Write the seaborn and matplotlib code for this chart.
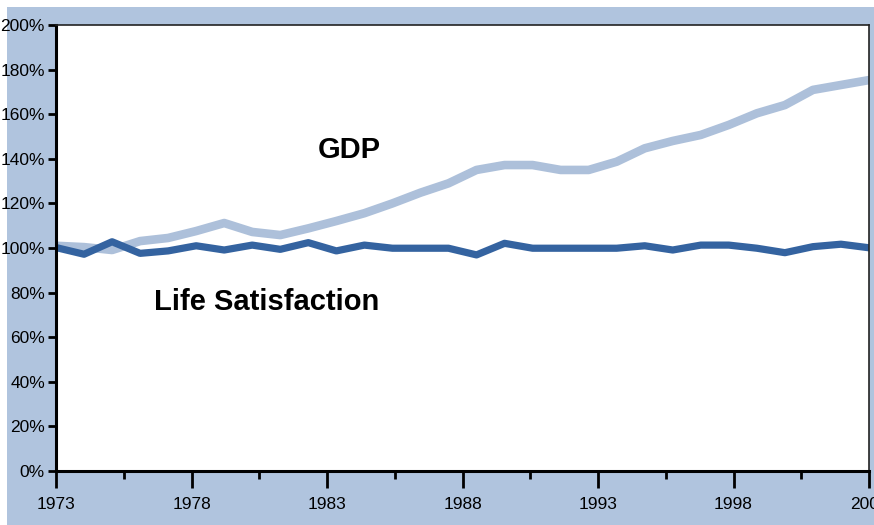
import numpy as np
import pandas as pd
import seaborn as sns
import matplotlib.pyplot as plt
from matplotlib.patches import Rectangle
from matplotlib.ticker import FixedLocator, FuncFormatter

# data (index = 100% in 1973)
years = list(range(1973, 2003))
gdp = [101.0, 100.4, 99.1, 103.1, 104.5, 107.6, 111.2, 107.2, 105.8, 108.8,
       112.1, 115.6, 120.0, 124.8, 129.0, 135.0, 137.2, 137.2, 135.0, 135.0,
       138.7, 144.7, 148.0, 150.7, 155.2, 160.4, 164.1, 170.9, 173.1, 175.3]
life_satisfaction = [100.2, 97.2, 102.8, 97.6, 98.7, 101.0, 99.1, 101.3, 99.4, 102.4,
                     98.7, 101.3, 99.9, 99.9, 99.9, 96.9, 102.1, 99.9, 99.9, 99.9,
                     99.9, 101.0, 99.1, 101.3, 101.3, 99.9, 97.9, 100.6, 101.7, 100.1]
tick_labels = ["1973", "1978", "1983", "1988", "1993", "1998", "2002"]

df = pd.DataFrame({"year": years, "GDP": gdp, "Life Satisfaction": life_satisfaction})

sns.set_theme(style="ticks")
plt.rcParams["font.family"] = ["Liberation Sans Narrow", "Liberation Sans", "DejaVu Sans"]
plt.rcParams["text.color"] = "black"

fig = plt.figure(figsize=(8.74, 5.25), dpi=100)
fig.patch.set_facecolor("white")
# light steel blue frame behind the plot
fig.patches.append(Rectangle((7 / 874, 0), 1, 1 - 7 / 525, transform=fig.transFigure,
                             facecolor="#b0c4de", edgecolor="none", zorder=-10))

ax = fig.add_axes([56 / 874, 54 / 525, 813 / 874, 446 / 525])
ax.set_facecolor("white")

sns.lineplot(data=df, x="year", y="GDP", ax=ax, color="#adc0da", linewidth=6.2)
sns.lineplot(data=df, x="year", y="Life Satisfaction", ax=ax, color="#3463a0", linewidth=5.2)

ax.set_xlim(years[0], years[-1])
ax.set_ylim(0, 200)
ax.set_yticks(np.arange(0, 201, 20))
ax.yaxis.set_major_formatter(FuncFormatter(lambda v, p: f"{v:.0f}%"))

# 12 equal tick intervals across the axis, label every other one
ticks = np.linspace(years[0], years[-1], 13)
ax.xaxis.set_major_locator(FixedLocator(ticks[::2]))
ax.xaxis.set_minor_locator(FixedLocator(ticks[1::2]))
ax.set_xticklabels(tick_labels)

ax.set_xlabel("")
ax.set_ylabel("")
ax.tick_params(axis="y", direction="out", length=6, width=2, pad=2, labelsize=12.5, colors="black")
ax.tick_params(axis="x", which="major", direction="out", length=12, width=2, pad=7, labelsize=12.5, colors="black")
ax.tick_params(axis="x", which="minor", direction="out", length=6, width=2, colors="black")

for side in ["left", "bottom"]:
    ax.spines[side].set_linewidth(2.2)
    ax.spines[side].set_color("black")
for side in ["top", "right"]:
    ax.spines[side].set_visible(True)
    ax.spines[side].set_linewidth(1.2)
    ax.spines[side].set_color("#222222")

ax.text(1982.35, 144, "GDP", fontsize=21, fontweight="bold", color="black",
        family=["Liberation Sans", "DejaVu Sans"], ha="left", va="center")
ax.text(1976.5, 75.8, "Life Satisfaction", fontsize=21, fontweight="bold", color="black",
        family=["Liberation Sans", "DejaVu Sans"], ha="left", va="center")

fig.savefig("out.png", dpi=100)
